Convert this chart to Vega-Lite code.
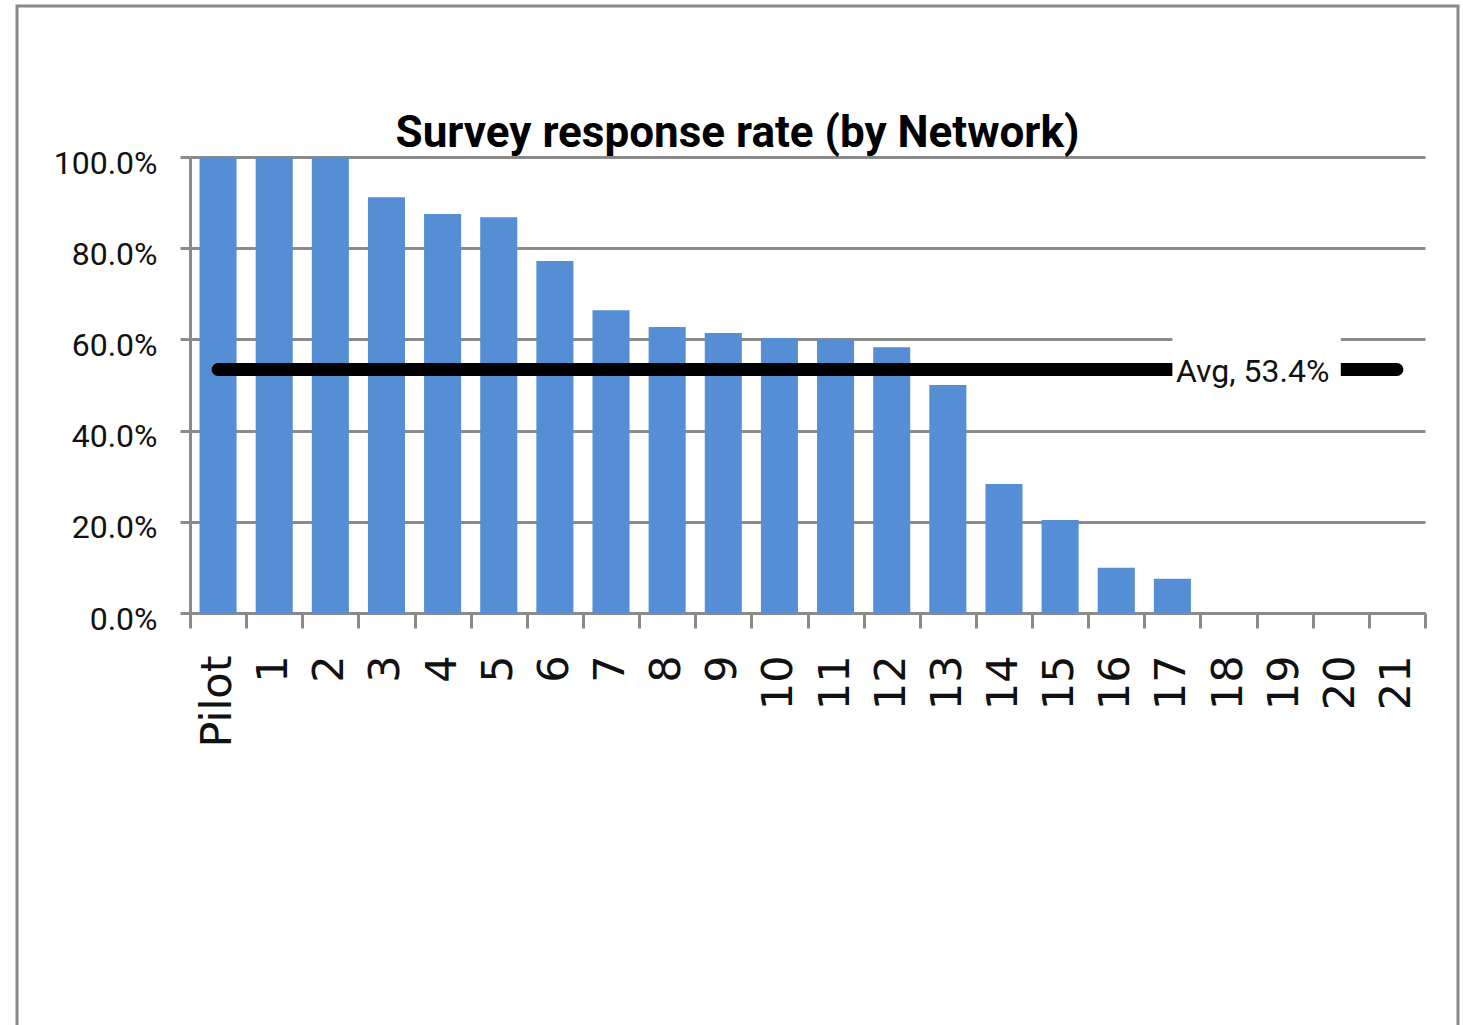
{
  "$schema": "https://vega.github.io/schema/vega-lite/v6.json",
  "autosize": "none",
  "padding": {"left": 17, "top": 6, "right": 5, "bottom": 0},
  "width": 1441,
  "height": 1030,
  "background": "white",
  "title": {
    "text": "Survey response rate (by Network)",
    "font": "Roboto",
    "fontSize": 44,
    "fontWeight": "bold",
    "color": "black",
    "anchor": "middle",
    "frame": "group",
    "offset": -150
  },
  "config": {
    "view": {"stroke": "#8a8a8a", "strokeWidth": 3, "fill": "white"}
  },
  "data": {
    "values": [
      {"network": "Pilot", "rate": 1.0},
      {"network": "1", "rate": 1.0},
      {"network": "2", "rate": 1.0},
      {"network": "3", "rate": 0.912},
      {"network": "4", "rate": 0.875},
      {"network": "5", "rate": 0.868},
      {"network": "6", "rate": 0.772},
      {"network": "7", "rate": 0.664},
      {"network": "8", "rate": 0.627},
      {"network": "9", "rate": 0.614},
      {"network": "10", "rate": 0.603},
      {"network": "11", "rate": 0.601},
      {"network": "12", "rate": 0.583},
      {"network": "13", "rate": 0.5},
      {"network": "14", "rate": 0.283},
      {"network": "15", "rate": 0.204},
      {"network": "16", "rate": 0.099},
      {"network": "17", "rate": 0.075},
      {"network": "18", "rate": 0},
      {"network": "19", "rate": 0},
      {"network": "20", "rate": 0},
      {"network": "21", "rate": 0}
    ]
  },
  "layer": [
    {
      "mark": {"type": "bar", "color": "#558ed5"},
      "encoding": {
        "x": {
          "field": "network",
          "type": "nominal",
          "sort": ["Pilot", "1", "2", "3", "4", "5", "6", "7", "8", "9", "10", "11", "12", "13", "14", "15", "16", "17", "18", "19", "20", "21"],
          "scale": {"range": [173, 1408], "paddingInner": 0.34, "paddingOuter": 0.17},
          "axis": {
            "orient": "bottom",
            "title": null,
            "offset": -423,
            "labelAngle": -90,
            "grid": false,
            "domain": false,
            "ticks": false,
            "labelFont": "DejaVu Sans",
            "labelFontSize": 43,
            "labelColor": "#111111",
            "labelPadding": 42
          }
        },
        "y": {
          "field": "rate",
          "type": "quantitative",
          "scale": {"domain": [0, 1], "range": [607, 151], "nice": false},
          "axis": {
            "title": null,
            "format": ".1%",
            "values": [0, 0.2, 0.4, 0.6, 0.8, 1],
            "offset": -173,
            "grid": true,
            "gridColor": "#8a8a8a",
            "gridWidth": 3,
            "domainColor": "#8a8a8a",
            "domainWidth": 3,
            "tickColor": "#8a8a8a",
            "tickWidth": 3,
            "tickSize": 10,
            "labelFont": "Roboto",
            "labelFontSize": 32,
            "labelColor": "#111111",
            "labelPadding": 23,
            "labelOffset": 6
          }
        }
      }
    },
    {
      "data": {"values": [{"avg": 0.534, "label": "Avg, 53.4%"}]},
      "layer": [
        {
          "mark": {"type": "rule", "color": "black", "strokeWidth": 13, "strokeCap": "round"},
          "encoding": {
            "x": {
              "datum": 0.5,
              "type": "quantitative",
              "scale": {"domain": [0, 22], "range": [173, 1408], "nice": false, "zero": false},
              "axis": {
                "orient": "bottom",
                "title": null,
                "offset": -423,
                "values": [0, 1, 2, 3, 4, 5, 6, 7, 8, 9, 10, 11, 12, 13, 14, 15, 16, 17, 18, 19, 20, 21, 22],
                "labels": false,
                "grid": false,
                "domainColor": "#8a8a8a",
                "domainWidth": 3,
                "tickColor": "#8a8a8a",
                "tickWidth": 3,
                "tickSize": 15
              }
            },
            "x2": {"datum": 21.5},
            "y": {"field": "avg", "type": "quantitative", "title": null}
          }
        },
        {
          "mark": {"type": "rect", "color": "white"},
          "encoding": {
            "x": {"datum": 17.5, "type": "quantitative"},
            "x2": {"datum": 20.5},
            "y": {"datum": 0.45, "type": "quantitative", "title": null},
            "y2": {"datum": 0.615}
          }
        },
        {
          "mark": {
            "type": "text",
            "font": "Roboto",
            "fontSize": 32,
            "color": "#111111",
            "align": "center",
            "baseline": "middle",
            "dy": 3
          },
          "encoding": {
            "x": {"datum": 18.93, "type": "quantitative"},
            "y": {"field": "avg", "type": "quantitative", "title": null},
            "text": {"field": "label"}
          }
        }
      ]
    }
  ],
  "resolve": {"scale": {"x": "independent"}}
}
